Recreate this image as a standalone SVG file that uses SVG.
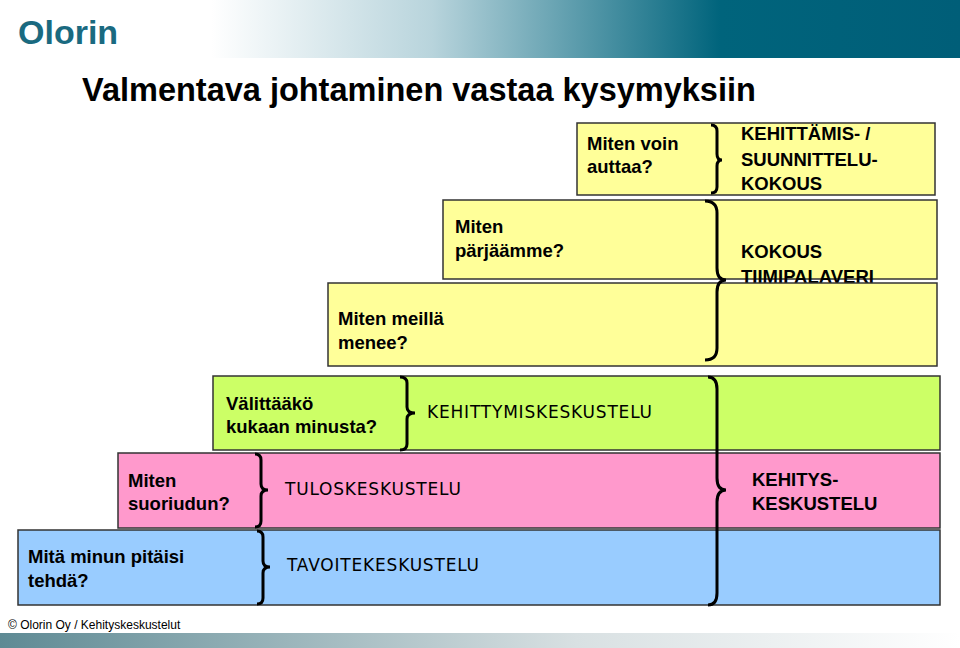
<svg xmlns="http://www.w3.org/2000/svg" width="960" height="648" viewBox="0 0 960 648">
<defs>
<linearGradient id="hdr" x1="0" x2="1" y1="0" y2="0"><stop offset="0.22" stop-color="#ffffff"/><stop offset="0.45" stop-color="#b8d4dc"/><stop offset="0.75" stop-color="#00647c"/><stop offset="1" stop-color="#005e78"/></linearGradient>
<linearGradient id="ftr" x1="0" x2="1" y1="0" y2="0"><stop offset="0" stop-color="#5e8a94"/><stop offset="0.6" stop-color="#d8e0e2"/><stop offset="1" stop-color="#ffffff"/></linearGradient>
<style>
.box{stroke:#333;stroke-width:1.5}
.q{font-family:"Liberation Sans",Arial,sans-serif;font-size:18.5px;font-weight:bold;fill:#000}
.a{font-family:"DejaVu Sans",sans-serif;font-size:17px;letter-spacing:0.8px;fill:#000}
.br{fill:none;stroke:#000;stroke-width:3}
</style>
</defs>
<rect x="0" y="0" width="960" height="58" fill="url(#hdr)"/>
<text x="18" y="44" font-family="Liberation Sans,Arial,sans-serif" font-size="34" font-weight="bold" fill="#1a6a80">Olorin</text>
<text x="82" y="101" font-family="Liberation Sans,Arial,sans-serif" font-size="32.5" font-weight="bold">Valmentava johtaminen vastaa kysymyksiin</text>
<g id="n-blue"><rect class="box" x="18" y="530" width="922" height="75" fill="#99ccff"/><text class="q" x="28" y="563">Mitä minun pitäisi</text><text class="q" x="28" y="587">tehdä?</text><text class="a" x="287" y="571">TAVOITEKESKUSTELU</text></g>
<g id="n-pink"><rect class="box" x="118" y="453" width="822" height="75" fill="#ff99cc"/><text class="q" x="128" y="487">Miten</text><text class="q" x="128" y="510">suoriudun?</text><text class="a" x="285" y="495">TULOSKESKUSTELU</text><text class="q" x="752" y="486">KEHITYS-</text><text class="q" x="752" y="510">KESKUSTELU</text></g>
<g id="n-green"><rect class="box" x="213" y="376" width="727" height="74" fill="#ccff66"/><text class="q" x="226" y="410">Välittääkö</text><text class="q" x="226" y="433">kukaan minusta?</text><text class="a" x="427" y="418">KEHITTYMISKESKUSTELU</text></g>
<g id="n-y2"><rect class="box" x="443" y="200" width="494" height="79" fill="#ffff99"/><text class="q" x="455" y="233">Miten</text><text class="q" x="455" y="257">pärjäämme?</text><text class="q" x="741" y="258">KOKOUS</text><text class="q" x="741" y="283">TIIMIPALAVERI</text></g>
<g id="n-y1"><rect class="box" x="328" y="283" width="609" height="83" fill="#ffff99"/><text class="q" x="338" y="325">Miten meillä</text><text class="q" x="338" y="349">menee?</text></g>
<g id="n-y3"><rect class="box" x="577" y="123" width="358" height="72" fill="#ffff99"/><text class="q" x="587" y="150">Miten voin</text><text class="q" x="587" y="173">auttaa?</text><text class="q" x="741" y="140">KEHITTÄMIS- /</text><text class="q" x="741" y="166">SUUNNITTELU-</text><text class="q" x="741" y="190">KOKOUS</text></g>
<g id="connectors">
<path class="br" d="M711,125 Q717,125 717,131 V154 Q717,160 722,160 Q717,160 717,166 V187 Q717,193 711,193"/>
<path class="br" d="M705,201 Q717,201 717,213 V268 Q717,280 726,280 Q717,280 717,292 V348 Q717,360 705,360"/>
<path class="br" d="M400,377 Q407,377 407,383 V407 Q407,413 415,413 Q407,413 407,419 V444 Q407,450 400,450"/>
<path class="br" d="M708,377 Q717,377 717,389 V478 Q717,490 726,490 Q717,490 717,502 V593 Q717,605 708,605"/>
<path class="br" d="M255,454 Q261,454 261,460 V484 Q261,490 268,490 Q261,490 261,496 V521 Q261,527 255,527"/>
<path class="br" d="M257,531 Q263,531 263,537 V561 Q263,567 270,567 Q263,567 263,573 V598 Q263,604 257,604"/>
</g>
<rect x="0" y="633" width="960" height="15" fill="url(#ftr)"/>
<text x="8" y="629" font-family="Liberation Sans,Arial,sans-serif" font-size="12">© Olorin Oy / Kehityskeskustelut</text>
</svg>
